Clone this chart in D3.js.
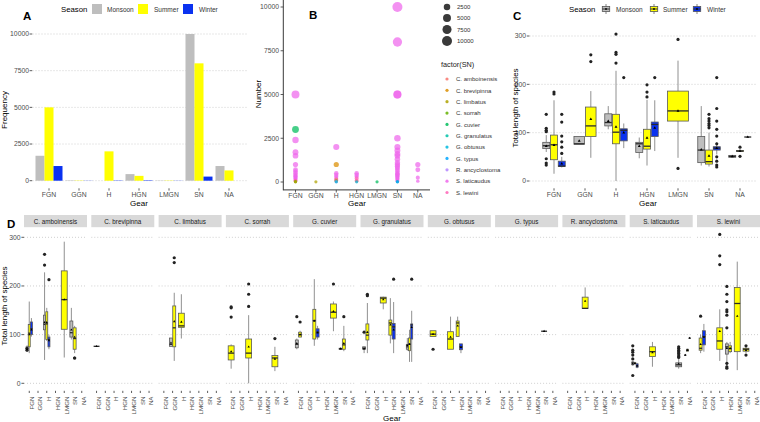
<!DOCTYPE html>
<html><head><meta charset="utf-8">
<script src="https://cdn.jsdelivr.net/npm/d3@7"></script>
<style>body{margin:0;background:#fff}svg{display:block}text{font-family:"Liberation Sans",Arial,sans-serif}</style>
</head><body><svg id="c" width="760" height="422"></svg>
<script>
// ---------- DATA ----------
const gears = ["FGN","GGN","H","HGN","LMGN","SN","NA"];
const seasons = ["Monsoon","Summer","Winter"];
const seasonColors = ["#BEBEBE","#FFFF00","#0A32F0"];

// Panel A: frequency by gear and season
const freqMonsoon = [1700, 30, 0, 450, 20, 10000, 1000];
const freqSummer  = [5000, 20, 2000, 330, 20, 8000, 700];
const freqWinter  = [1000, 10, 20, 30, 10, 280, 0];
const freqTicks = [0, 2500, 5000, 7500, 10000];

// Panel B: catch records [gear, species, number]
const species = ["C. amboinensis","C. brevipinna","C. limbatus","C. sorrah","G. cuvier","G. granulatus","G. obtusus","G. typus","R. ancyclostoma","S. laticaudus","S. lewini"];
const speciesColors = ["#F8766D","#DB8E00","#AEA200","#64B200","#00BD5C","#00C1A7","#00BADE","#00A6FF","#B385FF","#EF67EB","#FF63B6"];
const catchRecords = [
  ["FGN","S. laticaudus",5000],["FGN","G. cuvier",3000],["FGN","S. laticaudus",2400],["FGN","S. laticaudus",1700],
  ["FGN","S. laticaudus",1500],["FGN","S. laticaudus",1000],["FGN","S. laticaudus",700],["FGN","S. laticaudus",600],
  ["FGN","S. laticaudus",500],["FGN","S. laticaudus",400],["FGN","S. laticaudus",350],["FGN","S. laticaudus",300],
  ["FGN","S. laticaudus",250],["FGN","S. laticaudus",200],["FGN","S. laticaudus",150],["FGN","S. laticaudus",100],
  ["FGN","S. lewini",80],["FGN","C. amboinensis",40],["FGN","C. sorrah",20],["FGN","C. limbatus",10],
  ["GGN","C. limbatus",10],
  ["H","S. laticaudus",2000],["H","C. brevipinna",1000],["H","S. laticaudus",500],["H","S. laticaudus",400],
  ["H","S. laticaudus",300],["H","S. laticaudus",200],["H","C. amboinensis",150],["H","S. lewini",100],
  ["H","C. sorrah",60],["H","R. ancyclostoma",20],["H","G. obtusus",10],
  ["HGN","S. laticaudus",500],["HGN","S. laticaudus",400],["HGN","S. laticaudus",300],["HGN","S. lewini",200],
  ["HGN","S. lewini",100],["HGN","C. amboinensis",50],["HGN","G. obtusus",10],
  ["LMGN","G. cuvier",10],
  ["SN","S. laticaudus",10000],["SN","S. laticaudus",8000],["SN","S. laticaudus",5000],["SN","S. laticaudus",5000],
  ["SN","S. laticaudus",2500],["SN","S. laticaudus",2000],["SN","S. laticaudus",1800],["SN","S. laticaudus",1600],
  ["SN","S. laticaudus",1500],["SN","S. laticaudus",1300],["SN","S. laticaudus",1100],["SN","S. laticaudus",1000],
  ["SN","S. laticaudus",900],["SN","S. laticaudus",800],["SN","S. laticaudus",700],["SN","S. laticaudus",600],
  ["SN","S. laticaudus",500],["SN","S. laticaudus",450],["SN","S. laticaudus",400],["SN","S. laticaudus",350],
  ["SN","S. laticaudus",300],["SN","S. laticaudus",250],["SN","S. laticaudus",200],["SN","S. laticaudus",150],
  ["SN","S. laticaudus",100],["SN","S. laticaudus",50],["SN","G. granulatus",20],["SN","G. typus",10],
  ["NA","S. laticaudus",1000],["NA","S. laticaudus",700],["NA","S. laticaudus",250],["NA","S. laticaudus",50]
];
const sizeBreaks = [2500, 5000, 7500, 10000];

// Panel C: length boxplots by gear/season [gear, season, lo, q1, median, q3, hi, mean, outliers]
const lengthTicks = [0, 100, 200, 300];
const gearBoxes = [
  ["FGN","Monsoon",60,67,73,80,95,72,[138,109,105,102,46,37,33]],
  ["FGN","Summer",15,44,75,95,167,74,[184,180]],
  ["FGN","Winter",28,30,31,41,50,36,[138,122,93,81,70,57]],
  ["GGN","Monsoon",76,76,77,92,92,83,[]],
  ["GGN","Summer",48,92,114,153,186,128,[261,247]],
  ["H","Monsoon",107,114,121,139,155,124,[]],
  ["H","Summer",0,77,101,138,228,112,[304,266,262,244]],
  ["H","Winter",68,83,105,108,119,100,[214]],
  ["HGN","Monsoon",47,59,77,80,90,72,[]],
  ["HGN","Summer",32,66,72,107,168,89,[199,184,174]],
  ["HGN","Winter",62,92,117,122,167,110,[214]],
  ["LMGN","Summer",48,124,145,186,249,145,[293,26]],
  ["SN","Monsoon",32,38,64,92,155,65,[]],
  ["SN","Summer",30,35,40,64,100,52,[138,129,124,119,115,110]],
  ["SN","Winter",55,64,68,71,80,68,[214,150,124,107,93,77,50,41,33,29]],
  ["NA","Monsoon",48,49,51,53,54,51,[]],
  ["NA","Summer",60,61,62,63,66,62,[70,51]],
  ["NA","Winter",91,91,91,91,91,91,[]]
];

// Panel D: length boxplots by species/gear/season
const speciesBoxes = [
  ["C. amboinensis","FGN","Monsoon",65,67,70,75,78,70,[72,68]],
  ["C. amboinensis","FGN","Summer",62,75,103,121,168,100,[]],
  ["C. amboinensis","FGN","Winter",96,100,112,126,134,110,[]],
  ["C. amboinensis","H","Monsoon",48,110,121,140,228,125,[265,243]],
  ["C. amboinensis","H","Summer",87,90,122,147,155,125,[]],
  ["C. amboinensis","H","Winter",70,75,90,95,100,88,[213]],
  ["C. amboinensis","LMGN","Summer",53,111,172,231,291,172,[]],
  ["C. amboinensis","SN","Monsoon",90,95,104,128,155,110,[]],
  ["C. amboinensis","SN","Summer",62,70,92,114,118,95,[52,52]],
  ["C. brevipinna","FGN","Monsoon",76,76,76,76,76,76,[]],
  ["C. limbatus","GGN","Monsoon",75,76,80,93,93,83,[]],
  ["C. limbatus","GGN","Summer",46,75,114,159,186,127,[258,248]],
  ["C. limbatus","H","Summer",92,115,118,144,183,126,[]],
  ["C. sorrah","FGN","Summer",30,48,62,77,80,65,[157,155,136]],
  ["C. sorrah","H","Summer",0,52,62,91,140,75,[204,183,158]],
  ["C. sorrah","SN","Summer",25,34,52,57,75,50,[92]],
  ["G. cuvier","FGN","Monsoon",70,73,80,89,92,82,[137]],
  ["G. cuvier","FGN","Summer",95,95,100,105,108,100,[126]],
  ["G. cuvier","H","Summer",77,91,129,152,214,128,[]],
  ["G. cuvier","H","Winter",90,95,105,112,118,104,[]],
  ["G. cuvier","LMGN","Summer",107,134,146,163,168,148,[204]],
  ["G. cuvier","SN","Monsoon",69,70,71,72,73,71,[]],
  ["G. cuvier","SN","Summer",66,70,79,91,118,82,[137]],
  ["G. granulatus","FGN","Monsoon",62,70,72,75,75,71,[105]],
  ["G. granulatus","FGN","Summer",62,89,99,122,165,105,[183,180]],
  ["G. granulatus","H","Summer",152,165,175,177,178,172,[]],
  ["G. granulatus","HGN","Summer",82,99,124,130,175,120,[]],
  ["G. granulatus","HGN","Winter",62,91,116,123,167,110,[214]],
  ["G. granulatus","SN","Monsoon",67,70,75,80,93,78,[]],
  ["G. granulatus","SN","Summer",44,67,81,93,110,80,[]],
  ["G. granulatus","SN","Winter",44,91,120,122,149,115,[214]],
  ["G. obtusus","FGN","Summer",96,96,101,108,108,101,[70]],
  ["G. obtusus","H","Summer",70,70,91,106,137,95,[]],
  ["G. obtusus","HGN","Summer",96,96,124,128,137,118,[]],
  ["G. obtusus","HGN","Winter",62,69,75,81,81,74,[]],
  ["G. typus","SN","Summer",107,107,107,107,107,107,[]],
  ["R. ancyclostoma","H","Summer",154,154,154,177,197,169,[]],
  ["S. laticaudus","FGN","Monsoon",36,38,42,44,46,40,[77,68,64,58,50,16]],
  ["S. laticaudus","FGN","Summer",38,40,41,42,44,41,[]],
  ["S. laticaudus","FGN","Winter",31,33,36,40,42,36,[]],
  ["S. laticaudus","H","Summer",34,55,65,75,85,63,[]],
  ["S. laticaudus","SN","Monsoon",30,34,38,42,50,40,[75,72,68,65,62,58,55,53]],
  ["S. laticaudus","NA","Monsoon",58,58,58,58,58,58,[]],
  ["S. laticaudus","NA","Summer",66,66,68,70,71,68,[]],
  ["S. laticaudus","NA","Winter",93,93,93,93,93,93,[]],
  ["S. lewini","FGN","Summer",62,68,72,93,100,80,[138]],
  ["S. lewini","FGN","Winter",65,79,96,108,122,95,[]],
  ["S. lewini","H","Summer",46,70,87,114,152,107,[306,262,244]],
  ["S. lewini","HGN","Monsoon",35,60,75,81,85,72,[199,183,168,151,147,140,114,41,34,31]],
  ["S. lewini","HGN","Summer",62,65,71,77,85,72,[]],
  ["S. lewini","LMGN","Summer",27,65,164,197,250,138,[]],
  ["S. lewini","SN","Summer",62,66,70,72,75,68,[77,58]]
];

// ---------- DRAW ----------
const svg = d3.select("#c");
const tickCol = "#4D4D4D", gridCol = "#cfcfcf";
const sCol = s => seasonColors[seasons.indexOf(s)];

function text(g, x, y, s, o = {}) {
  const t = g.append("text").attr("x", x).attr("y", y).text(s)
    .attr("font-size", o.size || 6.8).attr("fill", o.fill || tickCol)
    .attr("text-anchor", o.anchor || "start");
  if (o.family) t.attr("font-family", o.family);
  if (o.weight) t.attr("font-weight", o.weight);
  if (o.transform) t.attr("transform", o.transform).attr("x", 0).attr("y", 0);
  return t;
}
function hline(g, x1, x2, y, col, dash, w) {
  const l = g.append("line").attr("x1", x1).attr("x2", x2).attr("y1", y).attr("y2", y)
    .attr("stroke", col).attr("stroke-width", w || 1);
  if (dash) l.attr("stroke-dasharray", dash);
}
function vline(g, x, y1, y2, col, w) {
  g.append("line").attr("x1", x).attr("x2", x).attr("y1", y1).attr("y2", y2)
    .attr("stroke", col).attr("stroke-width", w || 1);
}
function seasonLegend(g, x0, y0, keyXs, textXs, boxKey) {
  text(g, x0, y0 + 8, "Season", { size: 7.8, fill: "#000" });
  seasons.forEach((s, i) => {
    const kx = keyXs[i];
    if (!boxKey) {
      g.append("rect").attr("x", kx).attr("y", y0).attr("width", 10).attr("height", 10).attr("fill", seasonColors[i]);
    } else {
      vline(g, kx + 5, y0, y0 + 10, "#666", 0.8);
      g.append("rect").attr("x", kx + 1.3).attr("y", y0 + 2.5).attr("width", 7.4).attr("height", 5)
        .attr("fill", seasonColors[i]).attr("stroke", "#555").attr("stroke-width", 0.8);
      hline(g, kx + 1.3, kx + 8.7, y0 + 5, "#333", null, 1);
      g.append("circle").attr("cx", kx + 5).attr("cy", y0 + 5).attr("r", 0.9).attr("fill", "#000");
    }
    text(g, textXs[i], y0 + 7.5, s, { size: 6.5, fill: "#333" });
  });
}

// ----- Panel A -----
const gA = svg.append("g");
const xA = d3.scalePoint(gears, [49, 229]);
const yA = d3.scaleLinear([0, 10000], [180.7, 34]);
freqTicks.forEach(t => {
  hline(gA, 32.5, 248, yA(t), gridCol, "1,2");
  hline(gA, 29.6, 32.2, yA(t), "#333", null, 0.8);
  text(gA, 29, yA(t) + 2.4, d3.format("d")(t), { anchor: "end" });
});
const freqSeries = [freqMonsoon, freqSummer, freqWinter];
gears.forEach((g, i) => {
  freqSeries.forEach((arr, s) => {
    const v = arr[i];
    if (!v) return;
    gA.append("rect").attr("x", xA(g) - 13.5 + s * 9).attr("width", 9)
      .attr("y", yA(v)).attr("height", yA(0) - yA(v)).attr("fill", seasonColors[s]);
  });
  vline(gA, xA(g), 188.3, 190.6, "#333", 0.8);
  text(gA, xA(g), 197.3, g, { anchor: "middle" });
});
text(gA, 139, 206, "Gear", { size: 8, fill: "#000", anchor: "middle" });
text(gA, 0, 0, "Frequency", { size: 8, fill: "#000", anchor: "middle", transform: "translate(7,110) rotate(-90)" });
seasonLegend(gA, 61, 4, [92, 138, 183], [107, 154, 199], false);
text(gA, 23, 19.5, "A", { size: 11.5, fill: "#000", family: "Liberation Serif", weight: "bold" });

// ----- Panel B -----
const gB = svg.append("g");
const xB = d3.scalePoint(gears, [295.5, 417.8]);
const yB = d3.scaleLinear([0, 10000], [182, 7]);
const rB = v => 1.5 + 3.5 * Math.sqrt(v / 10000);
vline(gB, 283.3, 0, 190.3, "#222", 0.9);
hline(gB, 283.3, 430, 189.9, "#222", null, 0.9);
freqTicks.forEach(t => {
  hline(gB, 280.6, 283.3, yB(t), "#333", null, 0.8);
  text(gB, 279, yB(t) + 2.4, d3.format("d")(t), { anchor: "end" });
});
gears.forEach(g => {
  vline(gB, xB(g), 189.9, 192.5, "#333", 0.8);
  text(gB, xB(g), 198, g, { anchor: "middle" });
});
const recs = catchRecords.slice().sort((a, b) => b[2] - a[2]);
gB.selectAll("circle.pt").data(recs).join("circle").attr("class", "pt")
  .attr("cx", d => xB(d[0])).attr("cy", d => yB(d[2])).attr("r", d => rB(d[2]))
  .attr("fill", d => speciesColors[species.indexOf(d[1])]).attr("opacity", 0.72);
text(gB, 357, 206, "Gear", { size: 8, fill: "#000", anchor: "middle" });
text(gB, 0, 0, "Number", { size: 8, fill: "#000", anchor: "middle", transform: "translate(261,94) rotate(-90)" });
text(gB, 309, 18.5, "B", { size: 11.5, fill: "#000", family: "Liberation Serif", weight: "bold" });
// size legend
const sizeY = [7, 18, 29.5, 41];
sizeBreaks.forEach((b, i) => {
  gB.append("circle").attr("cx", 447).attr("cy", sizeY[i]).attr("r", rB(b)).attr("fill", "#3a3a3a");
  text(gB, 457, sizeY[i] + 2.3, d3.format("d")(b), { size: 6, fill: "#333" });
});
text(gB, 441, 67, "factor(SN)", { size: 7.3, fill: "#222" });
species.forEach((s, i) => {
  const y = 79 + i * 11.35;
  gB.append("circle").attr("cx", 447).attr("cy", y).attr("r", 1.6).attr("fill", speciesColors[i]).attr("opacity", 0.85);
  text(gB, 456, y + 2.2, s, { size: 6, fill: "#333" });
});

// ----- boxplot helper -----
function drawBoxes(g, rows, xPos, yS, totalW, meanSize) {
  const byGear = d3.group(rows, d => d.gear);
  byGear.forEach((arr, gear) => {
    arr.sort((a, b) => seasons.indexOf(a.season) - seasons.indexOf(b.season));
    const n = arr.length, slot = totalW / n, bw = slot * 0.9;
    arr.forEach((d, k) => {
      const cx = xPos(gear) - totalW / 2 + slot * (k + 0.5);
      vline(g, cx, yS(d.hi), yS(d.q3), "#858585", 0.9);
      vline(g, cx, yS(d.q1), yS(d.lo), "#858585", 0.9);
      g.append("rect").attr("x", cx - bw / 2).attr("width", bw)
        .attr("y", yS(d.q3)).attr("height", Math.max(0, yS(d.q1) - yS(d.q3)))
        .attr("fill", sCol(d.season)).attr("stroke", "#595959").attr("stroke-width", 0.8);
      hline(g, cx - bw / 2, cx + bw / 2, yS(d.med), "#2a2a2a", null, 1.3);
      d.out.forEach(o => g.append("circle").attr("cx", cx).attr("cy", yS(o)).attr("r", 1.6).attr("fill", "#222"));
      g.append("path").attr("d", d3.symbol(d3.symbolTriangle, meanSize)())
        .attr("transform", `translate(${cx},${yS(d.mean)})`).attr("fill", "#000");
    });
  });
}
const toObj = r => ({ gear: r[0], season: r[1], lo: r[2], q1: r[3], med: r[4], q3: r[5], hi: r[6], mean: r[7], out: r[8] });

// ----- Panel C -----
const gC = svg.append("g");
const xC = d3.scalePoint(gears, [554, 740]);
const yC = d3.scaleLinear([0, 300], [181, 36]);
lengthTicks.forEach(t => {
  hline(gC, 529.5, 757, yC(t), gridCol, "1,2");
  hline(gC, 526.8, 529.4, yC(t), "#333", null, 0.8);
  text(gC, 526, yC(t) + 2.4, t, { anchor: "end" });
});
gears.forEach(g => {
  vline(gC, xC(g), 188.3, 190.6, "#333", 0.8);
  text(gC, xC(g), 197.3, g, { anchor: "middle" });
});
drawBoxes(gC, gearBoxes.map(toObj), xC, yC, 23.25, 3.5);
text(gC, 648, 206, "Gear", { size: 8, fill: "#000", anchor: "middle" });
text(gC, 0, 0, "Total length of species", { size: 8, fill: "#000", anchor: "middle", transform: "translate(517.5,108) rotate(-90)" });
seasonLegend(gC, 569, 4, [601, 649, 692], [616, 663, 707], true);
text(gC, 513, 19.5, "C", { size: 11.5, fill: "#000", family: "Liberation Serif", weight: "bold" });

// ----- Panel D -----
const gD = svg.append("g");
const yD = d3.scaleLinear([0, 300], [383.3, 237.3]);
const facetStep = 67.3, facetW = 63;
lengthTicks.forEach(t => {
  hline(gD, 21.4, 24, yD(t), "#333", null, 0.8);
  text(gD, 20.5, yD(t) + 2.4, t, { anchor: "end" });
});
species.forEach((sp, i) => {
  const x0 = 24 + i * facetStep;
  const xD = d3.scalePoint(gears, [x0 + 5.25, x0 + facetW - 5.25]);
  lengthTicks.forEach(t => hline(gD, x0, x0 + facetW, yD(t), gridCol, "1,2"));
  gD.append("rect").attr("x", x0).attr("y", 215).attr("width", facetW).attr("height", 12.2).attr("fill", "#d9d9d9");
  text(gD, x0 + facetW / 2, 223.6, sp, { size: 6.3, fill: "#1a1a1a", anchor: "middle" });
  gears.forEach(g => {
    vline(gD, xD(g), 390.8, 393, "#333", 0.8);
    text(gD, 0, 0, g, { size: 6.2, anchor: "end", transform: `translate(${xD(g) + 4.3},396.5) rotate(-90)` });
  });
  const rows = speciesBoxes.filter(r => r[0] === sp).map(r => toObj(r.slice(1)));
  drawBoxes(gD, rows, xD, yD, 6.56, 2.5);
});
text(gD, 392, 420.5, "Gear", { size: 8, fill: "#000", anchor: "middle" });
text(gD, 0, 0, "Total length of species", { size: 8, fill: "#000", anchor: "middle", transform: "translate(7,306) rotate(-90)" });
text(gD, 7, 228, "D", { size: 11.5, fill: "#000", family: "Liberation Serif", weight: "bold" });
</script></body></html>
